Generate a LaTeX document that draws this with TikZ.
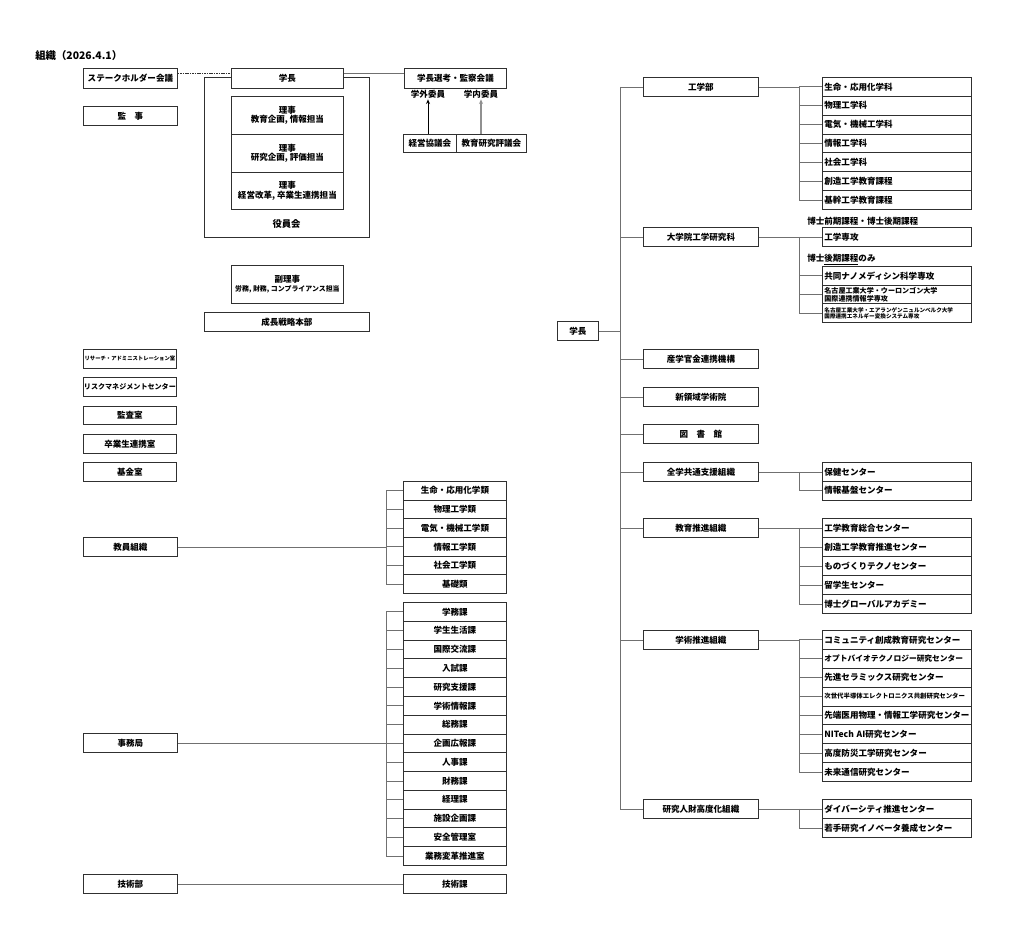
\documentclass[tikz,border=0pt]{standalone}
\usepackage{fontspec}
\setmainfont{Noto Sans CJK JP}
\usetikzlibrary{calc,arrows.meta}
\definecolor{bd}{HTML}{303030}
\definecolor{ln}{HTML}{707070}
\definecolor{lnl}{HTML}{909090}
\newcommand{\fsn}{\fontsize{6.4}{7}\selectfont\bfseries}
\newcommand{\fsl}{\fontsize{7.8}{8}\selectfont\bfseries}
\begin{document}
\begin{tikzpicture}[x=0.75pt,y=-0.75pt,
  ob/.style 2 args={draw=bd, fill=white, line width=0.6pt, inner sep=0pt, font=\fsn, align=center, anchor=north west, minimum width=#1*0.75pt, minimum height=#2*0.75pt},
  lb/.style={draw=bd, fill=white, line width=0.6pt, inner xsep=1.5pt, inner ysep=0pt, font=\fsn, align=left, anchor=north west, text width=108.75pt, minimum height=#1*0.75pt},
  cn/.style={draw=ln, line width=0.6pt},
  tx/.style={inner sep=0pt, font=\fsn}]
\fill[white] (0,0) rectangle (1024,946);
\useasboundingbox (0,0) rectangle (1024,946);

% title
\node[inner sep=0pt, anchor=west, font=\fsl] (title) at (35,56) {組織（2026.4.1）};

% left column
\node[ob={94}{20}] (sh) at (83,68) {ステークホルダー会議};
\node[ob={94}{19}] (kanji) at (83,106) {監　事};
\node[ob={93}{19}, font=\fontsize{4}{5}\selectfont\bfseries] (ra) at (83,349) {リサーチ・アドミニストレーション室};
\node[ob={93}{19}, font=\fontsize{5.3}{6}\selectfont\bfseries] (rm) at (83,377) {リスクマネジメントセンター};
\node[ob={93}{18}] (ka) at (83,406) {監査室};
\node[ob={93}{19}] (so) at (83,434) {卒業生連携室};
\node[ob={93}{19}] (ki) at (83,462) {基金室};
\node[ob={94}{19}] (kyo) at (83,537) {教員組織};
\node[ob={94}{19}] (jim) at (83,733) {事務局};
\node[ob={94}{19}] (gij) at (83,874) {技術部};

% board
\node[ob={165}{160}, fill=none] (yakuin) at (204,77) {};
\node[tx, font=\fontsize{7}{8}\selectfont\bfseries] (yakuinlbl) at (286.5,224) {役員会};
\node[ob={112}{20}] (gakucho) at (231,68) {学長};
\node[ob={112}{38}] (riji1) at (231,96) {理事\\教育企画, 情報担当};
\node[ob={112}{38}] (riji2) at (231,134) {理事\\研究企画, 評価担当};
\node[ob={112}{37}] (riji3) at (231,172) {理事\\経営改革, 卒業生連携担当};
\node[ob={112}{38}] (fuku) at (231,265) {副理事\\{\fontsize{5.2}{6}\selectfont 労務, 財務, コンプライアンス担当}};
\node[ob={165}{19}] (seicho) at (204,312) {成長戦略本部};

% selection council
\node[ob={102}{20}] (senko) at (404,68) {学長選考・監察会議};
\node[tx] (gai) at (428,94) {学外委員};
\node[tx] (nai) at (481,94) {学内委員};
\node[ob={53}{18}] (keiei) at (403,134) {経営協議会};
\node[ob={70}{18}] (hyogi) at (456,134) {教育研究評議会};
\draw[black, line width=0.6pt, -{Stealth[length=3.5pt,width=3pt]}] (keiei.north -| gai) -- ($(gai.south)+(0,1)$);
\draw[lnl, line width=0.8pt, -{Stealth[length=3.5pt,width=3pt]}] (hyogi.north -| nai) -- ($(nai.south)+(0,1)$);
\draw[bd, line width=0.6pt, dash pattern=on 1.2pt off 0.6pt] ($(sh.east)+(0,-5)$) -- ($(gakucho.west)+(0,-5)$);
\draw[cn] ($(gakucho.east)+(0,-5)$) -- ($(senko.west)+(0,-5)$);

% faculty groups
\coordinate (bxl) at (386,0);
\foreach \t [count=\i] in {生命・応用化学類,物理工学類,電気・機械工学類,情報工学類,社会工学類,基礎類}{
  \pgfmathsetmacro\yy{481+(\i-1)*18.67}
  \node[ob={103}{18.67}] (k\i) at (403,\yy) {\t};
}
\draw[cn] (kyo.east) -- (kyo.east -| bxl);
\draw[cn] (k1.west -| bxl) -- (k6.west -| bxl);
\foreach \i in {1,...,6} \draw[cn] (k\i.west -| bxl) -- (k\i.west);

% administration
\foreach \t [count=\i] in {学務課,学生生活課,国際交流課,入試課,研究支援課,学術情報課,総務課,企画広報課,人事課,財務課,経理課,施設企画課,安全管理室,業務変革推進室}{
  \pgfmathsetmacro\yy{602+(\i-1)*18.79}
  \node[ob={103}{18.79}] (j\i) at (403,\yy) {\t};
}
\draw[cn] (jim.east) -- (jim.east -| bxl);
\draw[cn] (j1.west -| bxl) -- (j14.west -| bxl);
\foreach \i in {1,...,14} \draw[cn] (j\i.west -| bxl) -- (j\i.west);

\node[ob={103}{19}] (gika) at (403,874) {技術課};
\draw[cn] (gij.east) -- (gika.west);

% right side
\coordinate (tr) at (620,0);
\coordinate (bxr) at (799,0);
\node[ob={41}{19}] (gakucho2) at (557,321) {学長};
\node[ob={115}{19}] (kog) at (643,77) {工学部};
\node[ob={115}{19}] (dai) at (643,227) {大学院工学研究科};
\node[ob={115}{19}] (san) at (643,349) {産学官金連携機構};
\node[ob={115}{19}] (shin) at (643,387) {新領域学術院};
\node[ob={115}{19}] (tosho) at (643,424) {図　書　館};
\node[ob={115}{19}] (zen) at (643,462) {全学共通支援組織};
\node[ob={115}{19}] (kyoi) at (643,518) {教育推進組織};
\node[ob={115}{19}] (gakuj) at (643,630) {学術推進組織};
\node[ob={115}{19}] (ken) at (643,799) {研究人財高度化組織};
\draw[cn] (kog.west -| tr) -- (ken.west -| tr);
\foreach \n in {kog,dai,san,shin,tosho,zen,kyoi,gakuj,ken} \draw[cn] (\n.west -| tr) -- (\n.west);
\draw[cn] (gakucho2.east) -- (gakucho2.east -| tr);

% engineering departments
\foreach \t [count=\i] in {生命・応用化学科,物理工学科,電気・機械工学科,情報工学科,社会工学科,創造工学教育課程,基幹工学教育課程}{
  \pgfmathsetmacro\yy{77+(\i-1)*18.857}
  \node[lb=18.857] (ko\i) at (822,\yy) {\t};
}
\draw[cn] (kog.east) -- (kog.east -| bxr);
\draw[cn] (ko1.west -| bxr) -- (ko7.west -| bxr);
\foreach \i in {1,...,7} \draw[cn] (ko\i.west -| bxr) -- (ko\i.west);

% graduate school
\node[tx, anchor=west] (lbl1) at (807,223) {博士\underline{前期課程}・博士\underline{後期課程}};
\node[tx, anchor=west] (lbl2) at (807,260) {博士\underline{後期課程}のみ};
\node[lb=19] (d1) at (822,227) {工学専攻};
\node[lb=18.67] (d2) at (822,266) {共同ナノメディシン科学専攻};
\node[lb=18.67, font=\fontsize{5.3}{6}\selectfont\bfseries] (d3) at (822,284.67) {名古屋工業大学・ウーロンゴン大学\\国際連携情報学専攻};
\node[lb=18.67, font=\fontsize{4.2}{4.6}\selectfont\bfseries] (d4) at (822,303.33) {名古屋工業大学・エアランゲンニュルンベルク大学\\国際連携エネルギー変換システム専攻};
\draw[cn] (dai.east) -- (d1.west);
\draw[cn] (d1.west -| bxr) -- (d4.west -| bxr);
\foreach \n in {d2,d3,d4} \draw[cn] (\n.west -| bxr) -- (\n.west);

% common support
\node[lb=19] (z1) at (822,462) {保健センター};
\node[lb=18.5] (z2) at (822,481) {情報基盤センター};
\draw[cn] (zen.east) -- (z1.west);
\draw[cn] (z1.west -| bxr) -- (z2.west -| bxr);
\draw[cn] (z2.west -| bxr) -- (z2.west);

% education promotion
\foreach \t [count=\i] in {工学教育総合センター,創造工学教育推進センター,ものづくりテクノセンター,留学生センター,博士グローバルアカデミー}{
  \pgfmathsetmacro\yy{518+(\i-1)*19}
  \node[lb=19] (e\i) at (822,\yy) {\t};
}
\draw[cn] (kyoi.east) -- (kyoi.east -| bxr);
\draw[cn] (e1.west -| bxr) -- (e5.west -| bxr);
\foreach \i in {1,...,5} \draw[cn] (e\i.west -| bxr) -- (e\i.west);

% research promotion
\foreach \t [count=\i] in {コミュニティ創成教育研究センター,{\fontsize{5.8}{6}\selectfont オプトバイオテクノロジー研究センター},先進セラミックス研究センター,{\fontsize{4.8}{5}\selectfont 次世代半導体エレクトロニクス共創研究センター},先端医用物理・情報工学研究センター,{NITech AI研究センター},高度防災工学研究センター,未来通信研究センター}{
  \pgfmathsetmacro\yy{630+(\i-1)*18.875}
  \node[lb=18.875] (r\i) at (822,\yy) {\t};
}
\draw[cn] (gakuj.east) -- (gakuj.east -| bxr);
\draw[cn] (r1.west -| bxr) -- (r8.west -| bxr);
\foreach \i in {1,...,8} \draw[cn] (r\i.west -| bxr) -- (r\i.west);

% human resources
\node[lb=19] (h1) at (822,799) {ダイバーシティ推進センター};
\node[lb=19] (h2) at (822,818) {若手研究イノベータ養成センター};
\draw[cn] (ken.east) -- (h1.west);
\draw[cn] (h1.west -| bxr) -- (h2.west -| bxr);
\draw[cn] (h2.west -| bxr) -- (h2.west);
\end{tikzpicture}
\end{document}
